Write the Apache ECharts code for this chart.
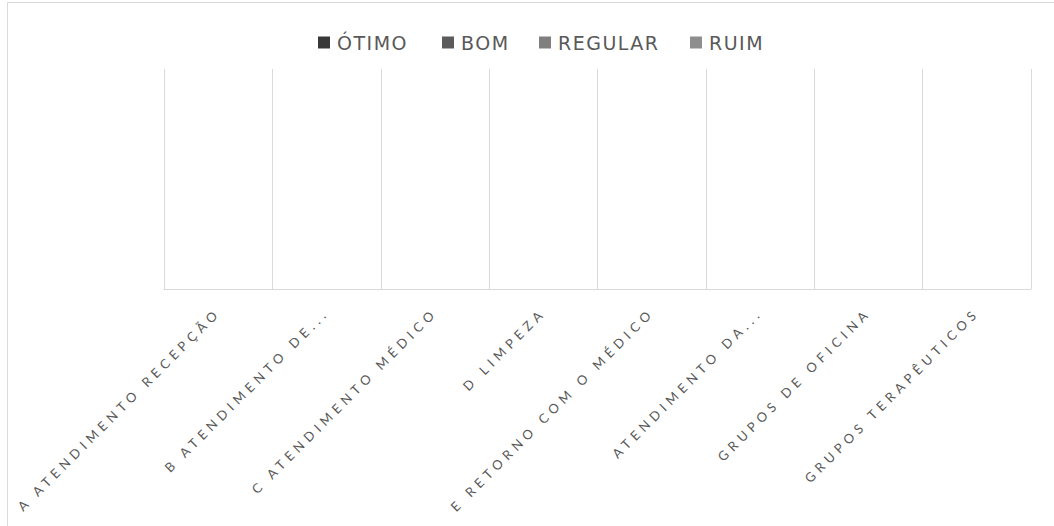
<!DOCTYPE html>
<html>
<head>
<meta charset="utf-8">
<script src="https://cdn.jsdelivr.net/npm/echarts@6/dist/echarts.min.js"></script>
<style>
  html, body { margin: 0; padding: 0; background: #ffffff; }
  #chart { width: 1054px; height: 526px; }
  /* spaced-out capitals for the category labels */
  #chart text[style*="Lato"] { letter-spacing: 4.8px; }
  /* slightly opened legend captions */
  #chart text[style*="DejaVu"] { letter-spacing: 1.5px; }
</style>
</head>
<body>
<div id="chart"></div>
<script>
// Categories of the evaluation
const categories = [
  'A ATENDIMENTO RECEPÇÃO',
  'B ATENDIMENTO DE...',
  'C ATENDIMENTO MÉDICO',
  'D LIMPEZA',
  'E RETORNO COM O MÉDICO',
  'ATENDIMENTO DA...',
  'GRUPOS DE OFICINA',
  'GRUPOS TERAPÊUTICOS'
];

// Rating series (no answers recorded yet)
const seriesNames = ['ÓTIMO', 'BOM', 'REGULAR', 'RUIM'];
const otimo   = [null, null, null, null, null, null, null, null];
const bom     = [null, null, null, null, null, null, null, null];
const regular = [null, null, null, null, null, null, null, null];
const ruim    = [null, null, null, null, null, null, null, null];

const seriesColors = ['#383838', '#5b5b5b', '#7f7f7f', '#8e8e8e'];
const legendLefts = [313, 437, 534, 685];

const chart = echarts.init(document.getElementById('chart'), null, { renderer: 'svg' });

const values = [otimo, bom, regular, ruim];

chart.setOption({
  animation: false,
  backgroundColor: '#ffffff',
  color: seriesColors,
  graphic: [{
    type: 'rect',
    silent: true,
    shape: { x: 7.5, y: 2.5, width: 1200, height: 700 },
    style: { fill: 'none', stroke: '#d9d9d9', lineWidth: 1 }
  }],
  legend: seriesNames.map((name, i) => ({
    data: [name],
    left: legendLefts[i],
    top: 28,
    icon: 'rect',
    itemWidth: 12,
    itemHeight: 12,
    itemGap: 4,
    textStyle: {
      color: '#595959',
      fontSize: 19,
      fontFamily: 'DejaVu Sans',
      padding: [0, 0, 0, 2]
    }
  })),
  grid: {
    left: 164,
    right: 23,
    top: 69,
    bottom: 237
  },
  xAxis: {
    type: 'category',
    data: categories,
    boundaryGap: true,
    axisLine: { show: true, lineStyle: { color: '#d9d9d9', width: 1 } },
    axisTick: { show: false },
    splitLine: { show: true, lineStyle: { color: '#d9d9d9', width: 1 } },
    axisLabel: {
      interval: 0,
      rotate: 45,
      margin: 21,
      color: '#595959',
      fontSize: 13,
      fontFamily: 'Lato'
    }
  },
  yAxis: {
    type: 'value',
    min: 0,
    max: 1,
    show: false,
    splitLine: { show: false }
  },
  series: seriesNames.map((name, i) => ({
    name: name,
    type: 'bar',
    data: values[i]
  }))
});
</script>
</body>
</html>
